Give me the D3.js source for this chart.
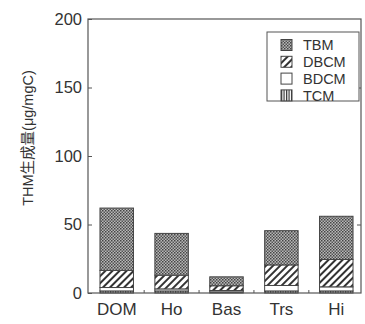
<!DOCTYPE html>
<html>
<head>
<meta charset="utf-8">
<style>
  body { margin: 0; background: #fff; }
  svg text { font-family: "Liberation Sans", Arial, sans-serif; fill: #333; }
</style>
</head>
<body>
<svg></svg>
<script src="https://d3js.org/d3.v7.min.js"></script>
<script>
const width = 365, height = 324;
const margin = {top: 19, right: 3, bottom: 30, left: 88};

// data (µg/mgC)
const categories = ["DOM", "Ho", "Bas", "Trs", "Hi"];
const seriesNames = ["TCM", "BDCM", "DBCM", "TBM"];
const tcm  = [1.5, 1.5, 0.8, 1.5, 1.5];
const bdcm = [2.5, 1.5, 1.0, 4.0, 3.0];
const dbcm = [12.5, 10, 3.5, 15, 20];
const tbm  = [45.5, 30.5, 6.5, 25, 31.5];
const yTicks = [0, 50, 100, 150, 200];
const legendOrder = ["TBM", "DBCM", "BDCM", "TCM"];

const rows = categories.map((c, i) => ({cat: c, TCM: tcm[i], BDCM: bdcm[i], DBCM: dbcm[i], TBM: tbm[i]}));
const stacked = d3.stack().keys(seriesNames)(rows);

const svg = d3.select("svg").attr("width", width).attr("height", height);
const defs = svg.append("defs");

// TBM: dense dark checker
const pT = defs.append("pattern").attr("id", "p-TBM").attr("patternUnits", "userSpaceOnUse")
  .attr("width", 3).attr("height", 3);
pT.append("rect").attr("width", 3).attr("height", 3).attr("fill", "#b8b8b8");
pT.append("rect").attr("width", 1.5).attr("height", 1.5).attr("fill", "#444");
pT.append("rect").attr("x", 1.5).attr("y", 1.5).attr("width", 1.5).attr("height", 1.5).attr("fill", "#555");

// DBCM: diagonal hatch
const pD = defs.append("pattern").attr("id", "p-DBCM").attr("patternUnits", "userSpaceOnUse")
  .attr("width", 5).attr("height", 5).attr("patternTransform", "rotate(45)");
pD.append("rect").attr("width", 5).attr("height", 5).attr("fill", "#fff");
pD.append("rect").attr("width", 2).attr("height", 5).attr("fill", "#333");

// TCM: vertical lines
const pC = defs.append("pattern").attr("id", "p-TCM").attr("patternUnits", "userSpaceOnUse")
  .attr("width", 2.5).attr("height", 4);
pC.append("rect").attr("width", 2.5).attr("height", 4).attr("fill", "#fff");
pC.append("rect").attr("width", 1.2).attr("height", 4).attr("fill", "#333");

const fills = {TBM: "url(#p-TBM)", DBCM: "url(#p-DBCM)", BDCM: "#fff", TCM: "url(#p-TCM)"};

const x = d3.scaleBand().domain(categories)
  .range([margin.left + 1, width - margin.right + 2])
  .paddingInner(0.39).paddingOuter(0.2);
const y = d3.scaleLinear().domain([0, 200]).range([height - margin.bottom - 1, margin.top]);

const x0 = margin.left, x1 = width - margin.right - 1;

// bars
svg.append("g").selectAll("g").data(stacked).join("g")
  .attr("fill", d => fills[d.key])
  .selectAll("rect").data(d => d).join("rect")
  .attr("x", d => x(d.data.cat))
  .attr("y", d => y(d[1]))
  .attr("width", x.bandwidth())
  .attr("height", d => y(d[0]) - y(d[1]))
  .attr("stroke", "#444").attr("stroke-width", 1);

// frame
svg.append("rect").attr("x", x0).attr("y", y(200)).attr("width", x1 - x0).attr("height", y(0) - y(200))
  .attr("fill", "none").attr("stroke", "#555").attr("stroke-width", 1.2);

// y axis
const yAxis = svg.append("g").attr("transform", `translate(${x0},0)`)
  .call(d3.axisRight(y).tickValues(yTicks).tickSize(4).tickFormat(""));
yAxis.select(".domain").remove();
yAxis.selectAll("line").attr("stroke", "#555");
svg.append("g").selectAll("text").data(yTicks).join("text")
  .attr("x", x0 - 6).attr("y", d => y(d)).attr("dy", "0.36em")
  .attr("text-anchor", "end").attr("font-size", 16.5).text(d => d);

// right side ticks
const yAxisR = svg.append("g").attr("transform", `translate(${x1},0)`)
  .call(d3.axisLeft(y).tickValues([50, 150]).tickSize(4).tickFormat(""));
yAxisR.select(".domain").remove();
yAxisR.selectAll("line").attr("stroke", "#555");

// bottom ticks between bars
const step = x.step();
const gaps = categories.slice(1).map(c => x(c) - (step - x.bandwidth()) / 2);
svg.append("g").selectAll("line").data(gaps).join("line")
  .attr("x1", d => d).attr("x2", d => d)
  .attr("y1", y(0)).attr("y2", y(0) - 3).attr("stroke", "#555");

// x labels
svg.append("g").selectAll("text").data(categories).join("text")
  .attr("x", d => x(d) + x.bandwidth() / 2).attr("y", y(0) + 22)
  .attr("text-anchor", "middle").attr("font-size", 17).text(d => d);

// y title
svg.append("text")
  .attr("transform", `translate(33,${(y(0) + y(200)) / 2 - 18}) rotate(-90)`)
  .attr("text-anchor", "middle").attr("font-size", 14.5)
  .style("font-family", "'Liberation Sans', 'Noto Sans CJK SC', sans-serif")
  .text("THM生成量(μg/mgC)");

// legend
const lg = svg.append("g");
lg.append("rect").attr("x", 267).attr("y", 32).attr("width", 92).attr("height", 69)
  .attr("fill", "#fff").attr("stroke", "#555").attr("stroke-width", 1);
const item = lg.selectAll("g.item").data(legendOrder).join("g").attr("class", "item")
  .attr("transform", (d, i) => `translate(281,${45 + i * 16.8})`);
item.append("rect").attr("x", 0).attr("y", -5.5).attr("width", 11).attr("height", 11)
  .attr("fill", d => fills[d]).attr("stroke", "#444");
item.append("text").attr("x", 22).attr("dy", "0.36em").attr("font-size", 14.5).text(d => d);
</script>
</body>
</html>
